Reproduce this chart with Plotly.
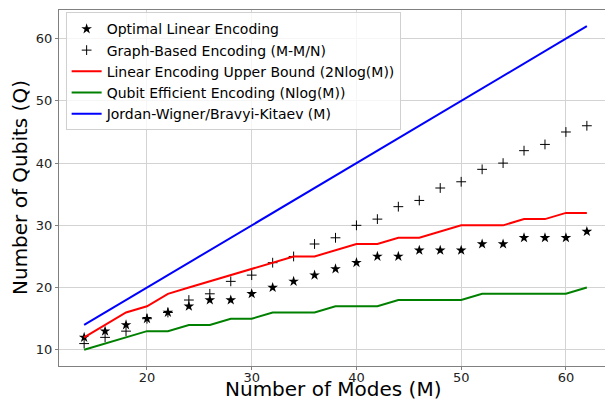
import plotly.graph_objects as go

modes = [14, 16, 18, 20, 22, 24, 26, 28, 30, 32, 34, 36, 38, 40, 42, 44, 46, 48, 50, 52, 54, 56, 58, 60, 62]
optimal = [12, 13, 14, 15, 16, 17, 18, 18, 19, 20, 21, 22, 23, 24, 25, 25, 26, 26, 26, 27, 27, 28, 28, 28, 29]
graph_based = [11, 12, 13, 15, 16, 18, 19, 21, 22, 24, 25, 27, 28, 30, 31, 33, 34, 36, 37, 39, 40, 42, 43, 45, 46]
upper_bound = [12, 14, 16, 17, 19, 20, 21, 22, 23, 24, 25, 25, 26, 27, 27, 28, 28, 29, 30, 30, 30, 31, 31, 32, 32]
qubit_eff = [10, 11, 12, 13, 13, 14, 14, 15, 15, 16, 16, 16, 17, 17, 17, 18, 18, 18, 18, 19, 19, 19, 19, 19, 20]
jw_bk = modes[:]

FONT = "DejaVu Sans"

fig = go.Figure()
fig.add_trace(go.Scatter(x=modes, y=optimal, mode="markers", name="Optimal Linear Encoding",
                         marker=dict(symbol="star", size=8, color="black", line=dict(width=0))))
fig.add_trace(go.Scatter(x=modes, y=graph_based, mode="markers", name="Graph-Based Encoding (M-M/N)",
                         marker=dict(symbol="cross-thin", size=7, color="black", line=dict(width=1, color="black"))))
fig.add_trace(go.Scatter(x=modes, y=upper_bound, mode="lines", name="Linear Encoding Upper Bound (2Nlog(M))",
                         line=dict(color="red", width=2)))
fig.add_trace(go.Scatter(x=modes, y=qubit_eff, mode="lines", name="Qubit Efficient Encoding (Nlog(M))",
                         line=dict(color="green", width=2)))
fig.add_trace(go.Scatter(x=modes, y=jw_bk, mode="lines", name="Jordan-Wigner/Bravyi-Kitaev (M)",
                         line=dict(color="blue", width=2)))

axis_common = dict(showline=True, linecolor="#808080", linewidth=1, mirror=True,
                   showgrid=True, gridcolor="#d3d3d3", gridwidth=1, zeroline=False,
                   ticks="outside", ticklen=3, tickcolor="#808080", automargin=False,
                   tickfont=dict(family=FONT, size=13, color="#222"))

# page body has an 8px margin, so the figure is sized/offset to compensate
L, R, T, B = 51, 1, 2, 39
W, H = 605, 397
plot_w = W - L - R
plot_h = H - T - B
PAGE_LEFT, PAGE_BOTTOM = 59, 366

fig.update_layout(
    width=W, height=H,
    margin=dict(l=L, r=R, t=T, b=B),
    paper_bgcolor="white", plot_bgcolor="white",
    font=dict(family=FONT, color="black"),
    xaxis=dict(range=[11.6, 64.4], tickvals=[20, 30, 40, 50, 60], ticklabelstandoff=-4, **axis_common),
    yaxis=dict(range=[7.4, 64.6], tickvals=[10, 20, 30, 40, 50, 60], **axis_common),
    legend=dict(x=0.012, y=0.9935, xanchor="left", yanchor="top",
                bgcolor="rgba(255,255,255,0.8)", bordercolor="#d0d0d0", borderwidth=1,
                font=dict(family=FONT, size=14), tracegroupgap=0, itemwidth=30),
    showlegend=True,
    annotations=[
        dict(text="Number of Modes (M)", xref="paper", yref="paper",
             x=(333 - PAGE_LEFT) / plot_w, y=(PAGE_BOTTOM - 389) / plot_h,
             xanchor="center", yanchor="middle", showarrow=False, font=dict(family=FONT, size=20)),
        dict(text="Number of Qubits (Q)", xref="paper", yref="paper",
             x=(20 - PAGE_LEFT) / plot_w, y=(PAGE_BOTTOM - 188) / plot_h,
             xanchor="center", yanchor="middle", showarrow=False, textangle=-90,
             font=dict(family=FONT, size=20)),
    ],
)

fig.write_html("out.html")
